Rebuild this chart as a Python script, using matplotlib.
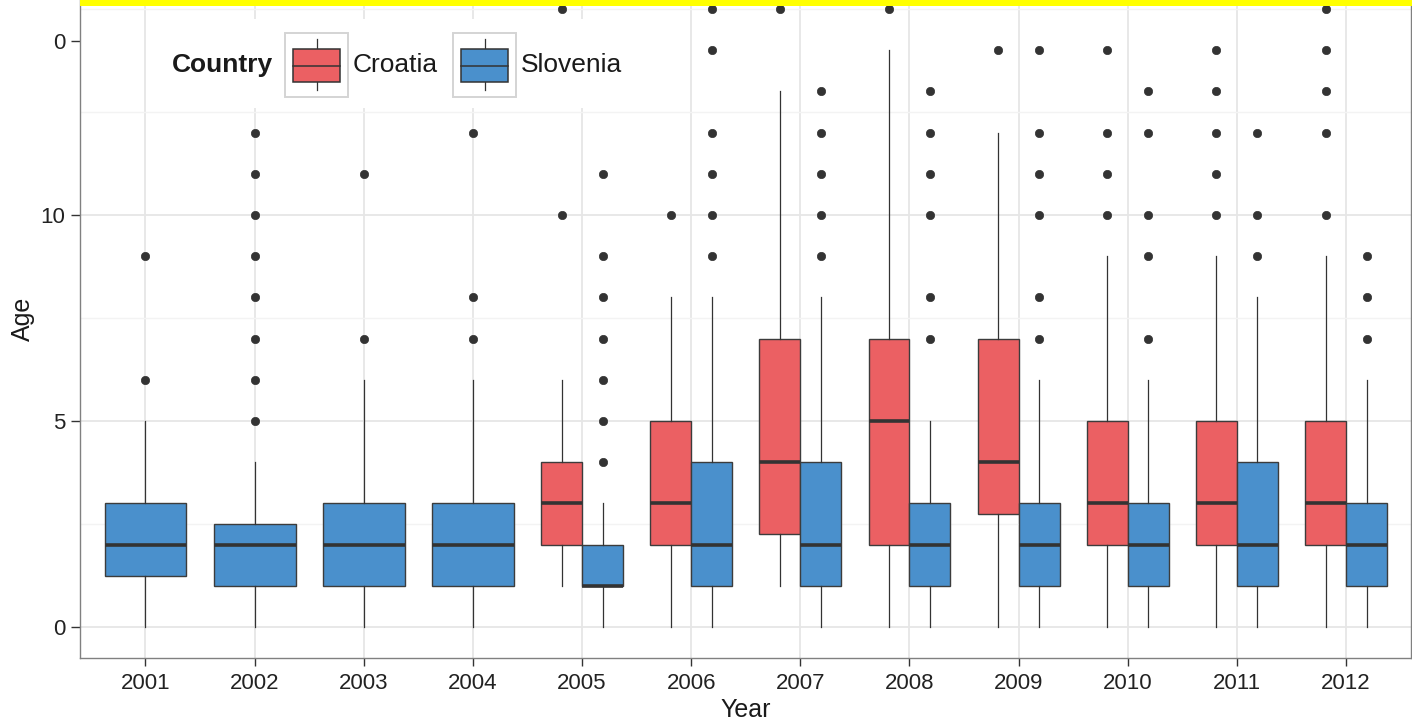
import matplotlib
matplotlib.use("Agg")
import matplotlib.pyplot as plt
import matplotlib.patches as mpatches
from matplotlib.lines import Line2D
from matplotlib.legend_handler import HandlerBase

plt.rcParams['font.family'] = ['Liberation Sans', 'DejaVu Sans']

# --- data ---
years = [2001, 2002, 2003, 2004, 2005, 2006, 2007, 2008, 2009, 2010, 2011, 2012]

# Croatia only has data from 2005 on
cro_years = [2005, 2006, 2007, 2008, 2009, 2010, 2011, 2012]
cro_q1 = [2, 2, 2.25, 2, 2.75, 2, 2, 2]
cro_med = [3, 3, 4, 5, 4, 3, 3, 3]
cro_q3 = [4, 5, 7, 7, 7, 5, 5, 5]
cro_lo = [1, 0, 1, 0, 0, 0, 0, 0]
cro_hi = [6, 8, 13, 14, 12, 9, 9, 9]
cro_out = [[10, 15], [10], [15], [15], [14],
           [10, 11, 12, 14], [10, 11, 12, 13, 14], [10, 12, 13, 14, 15]]

slo_years = years
slo_q1 = [1.25, 1, 1, 1, 1, 1, 1, 1, 1, 1, 1, 1]
slo_med = [2, 2, 2, 2, 1, 2, 2, 2, 2, 2, 2, 2]
slo_q3 = [3, 2.5, 3, 3, 2, 4, 4, 3, 3, 3, 4, 3]
slo_lo = [0, 0, 0, 0, 0, 0, 0, 0, 0, 0, 0, 0]
slo_hi = [5, 4, 6, 6, 3, 8, 8, 5, 6, 6, 8, 6]
slo_out = [[6, 9], [5, 6, 7, 8, 9, 10, 11, 12], [7, 11], [7, 8, 12],
           [4, 5, 6, 7, 8, 9, 11], [9, 10, 11, 12, 14, 15], [9, 10, 11, 12, 13],
           [7, 8, 10, 11, 12, 13], [7, 8, 10, 11, 12, 14], [7, 9, 10, 12, 13],
           [9, 10, 12], [7, 8, 9]]

RED = '#EB6063'
BLUE = '#4A90CC'
DARK = '#333333'

W, H = 1412, 721


def stats(q1, med, q3, lo, hi, out):
    return [dict(q1=a, med=b, q3=c, whislo=d, whishi=e, fliers=f)
            for a, b, c, d, e, f in zip(q1, med, q3, lo, hi, out)]


class BoxKey(HandlerBase):
    # ggplot style boxplot legend key
    def create_artists(self, legend, orig_handle, xdescent, ydescent,
                       width, height, fontsize, trans):
        x0, y0 = -xdescent, -ydescent
        frame = mpatches.Rectangle((x0, y0), width, height, facecolor='white',
                                   edgecolor='#d4d4d4', lw=1.4, transform=trans)
        bx, bw = x0 + width * 0.127, width * 0.746
        by, bh = y0 + height * 0.234, height * 0.516
        box = mpatches.Rectangle((bx, by), bw, bh, facecolor=orig_handle.get_facecolor(),
                                 edgecolor=DARK, lw=1.1, transform=trans)
        xc, ym = x0 + width / 2, by + bh / 2
        med = Line2D([bx, bx + bw], [ym, ym], color=DARK, lw=1.1, transform=trans)
        w1 = Line2D([xc, xc], [by + bh, y0 + height * 0.906], color=DARK, lw=0.9, transform=trans)
        w2 = Line2D([xc, xc], [y0 + height * 0.11, by], color=DARK, lw=0.9, transform=trans)
        return [frame, w1, w2, box, med]


fig = plt.figure(figsize=(W / 100, H / 100), dpi=100)
# panel runs from x=80 to 1411 px, bottom at 658 px, top just above the image
ax = fig.add_axes([80 / W, (H - 658) / H, 1331 / W, 679 / H])

idx = {y: i + 1 for i, y in enumerate(years)}
dodge = 0.1875
cro_pos = [idx[y] - dodge for y in cro_years]
slo_pos = [idx[y] + dodge if y in cro_years else idx[y] for y in slo_years]
slo_w = [0.375 if y in cro_years else 0.75 for y in slo_years]

common = dict(patch_artist=True, showcaps=False, manage_ticks=False,
              whiskerprops=dict(color=DARK, lw=0.9),
              medianprops=dict(color=DARK, lw=2.6, solid_capstyle='butt'),
              flierprops=dict(marker='o', markerfacecolor=DARK, markeredgecolor=DARK,
                              markersize=6, markeredgewidth=0.5))

ax.bxp(stats(cro_q1, cro_med, cro_q3, cro_lo, cro_hi, cro_out), positions=cro_pos,
       widths=0.375, boxprops=dict(facecolor=RED, edgecolor='#3c3c3c', lw=1.0), **common)
ax.bxp(stats(slo_q1, slo_med, slo_q3, slo_lo, slo_hi, slo_out), positions=slo_pos,
       widths=slo_w, boxprops=dict(facecolor=BLUE, edgecolor='#3c3c3c', lw=1.0), **common)

ax.set_xlim(0.4, 12.595)
ax.set_ylim(-0.752, 15.73)

ax.set_xticks(range(1, len(years) + 1))
ax.set_xticklabels([str(y) for y in years])
ax.set_yticks([0, 5, 10, 14.22])
ax.set_yticklabels(['0', '5', '10', '0'])
ax.set_yticks([2.5, 7.5, 12.5, 15], minor=True)

ax.set_axisbelow(True)
ax.grid(True, which='major', color='#e6e6e6', lw=1.3)
ax.grid(True, which='minor', axis='y', color='#f3f3f3', lw=1.0)
ax.yaxis.get_major_ticks()[3].gridline.set_visible(False)
top_tick = ax.yaxis.get_major_ticks()[3].tick1line
top_tick.set_markeredgewidth(2.4)
top_tick.set_color('black')

ax.tick_params(axis='both', which='major', colors=DARK, labelcolor='#222222',
               labelsize=16, width=1.0)
ax.tick_params(axis='y', length=6.5, pad=4)
ax.tick_params(axis='x', length=5.8, pad=5)
ax.tick_params(which='minor', length=0)

for side in ['left', 'bottom', 'right']:
    ax.spines[side].set_color('#808080')
    ax.spines[side].set_linewidth(1.0)
ax.spines['top'].set_visible(False)

ax.set_xlabel('Year', fontsize=18, color='#1a1a1a', labelpad=3)
ax.set_ylabel('Age', fontsize=18, color='#1a1a1a', labelpad=4)

# white legend background, hides the gridlines behind it
ax.add_patch(mpatches.Rectangle((150 / W, 1 - 108 / H), 478 / W, 89 / H,
                                transform=fig.transFigure, facecolor='white',
                                edgecolor='none', zorder=1))

handles = [mpatches.Patch(facecolor=RED), mpatches.Patch(facecolor=BLUE)]
fs = 19
fpx = fs * 100 / 72
# matplotlib trims 0.35*(hh-0.7) off the handle height, so solve for a 64 px key
hh = (64 / fpx - 0.245) / 0.65
leg = ax.legend(handles, ['Croatia', 'Slovenia'], handler_map={mpatches.Patch: BoxKey()},
                loc='center left', bbox_to_anchor=(285 / W, 1 - 65 / H),
                bbox_transform=fig.transFigure, ncol=2, frameon=False,
                fontsize=fs, borderpad=0, borderaxespad=0,
                handlelength=63 / fpx, handleheight=hh,
                handletextpad=5 / fpx, columnspacing=15 / fpx)
for t in leg.get_texts():
    t.set_color('#1a1a1a')
fig.text(172 / W, 1 - 65 / H, 'Country', fontsize=fs, fontweight='bold',
         color='#1a1a1a', ha='left', va='center')

# yellow strip along the top edge of the screenshot
fig.patches.append(mpatches.Rectangle((80 / W, 1 - 6 / H), 1 - 80 / W, 6 / H,
                                      transform=fig.transFigure, facecolor='#FFFF00',
                                      edgecolor='none', zorder=0.5))

fig.savefig('out.png', dpi=100)
